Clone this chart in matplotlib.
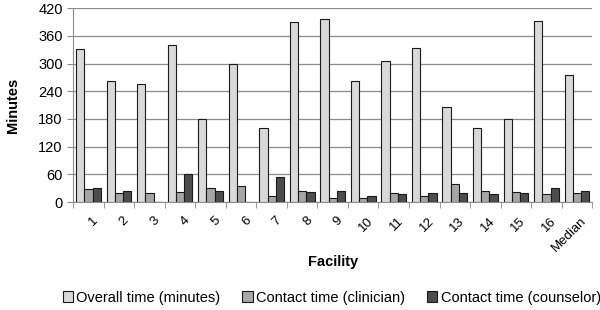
import numpy as np
import matplotlib
matplotlib.use("Agg")
import matplotlib.pyplot as plt

plt.rcParams["font.family"] = ["Liberation Sans", "DejaVu Sans"]

facilities = ["1", "2", "3", "4", "5", "6", "7", "8", "9", "10",
              "11", "12", "13", "14", "15", "16", "Median"]
overall   = [331, 262, 255, 339, 180, 300, 161, 390, 397, 262, 305, 334, 206, 161, 180, 392, 276]
clinician = [28, 19, 19, 22, 31, 35, 14, 24, 9, 9, 19, 14, 39, 24, 22, 17, 19]
counselor = [30, 24, 0, 60, 24, 0, 55, 21, 23, 14, 17, 19, 19, 17, 19, 31, 24]

series = [
    ("Overall time (minutes)", overall, "#d9d9d9"),
    ("Contact time (clinician)", clinician, "#a6a6a6"),
    ("Contact time (counselor)", counselor, "#4d4d4d"),
]

fig = plt.figure(figsize=(6, 3.1), dpi=100)
ax = fig.add_axes([0.122, 0.348, 0.865, 0.626])

x = np.arange(len(facilities))
w = 0.27
for i, (name, vals, col) in enumerate(series):
    ax.bar(x + (i - 1) * w, vals, w, color=col, edgecolor="#1a1a1a",
           linewidth=0.8, label=name, zorder=3)

ax.set_xlim(-0.5, len(facilities) - 0.5)
ax.set_ylim(0, 420)
ax.set_yticks(range(0, 421, 60))
ax.yaxis.grid(True, color="#8c8c8c", linewidth=0.9, zorder=0)

ax.set_xticks(x + 0.12)
ax.set_xticklabels(facilities, rotation=45, fontsize=9.5, ha="right",
                   rotation_mode="anchor")
ax.set_xticks(np.arange(-0.5, len(facilities), 1), minor=True)
ax.tick_params(axis="x", which="major", length=0, pad=9)
ax.tick_params(axis="x", which="minor", length=4, color="#8c8c8c")
ax.tick_params(axis="y", length=4, color="#8c8c8c", labelsize=10.5)

for s in ["top", "right"]:
    ax.spines[s].set_visible(False)
ax.spines["left"].set_color("#8c8c8c")
ax.spines["bottom"].set_color("#8c8c8c")

ax.set_ylabel("Minutes", fontsize=10.5, fontweight="bold", labelpad=13)
ax.set_xlabel("Facility", fontsize=10.5, fontweight="bold", labelpad=1)

fig.legend(loc="center", bbox_to_anchor=(0.553, 0.04), ncol=3, frameon=False,
           fontsize=10.5, handlelength=0.7, handleheight=0.7, handletextpad=0.25,
           columnspacing=1.5)

plt.savefig("out.png", dpi=100)
